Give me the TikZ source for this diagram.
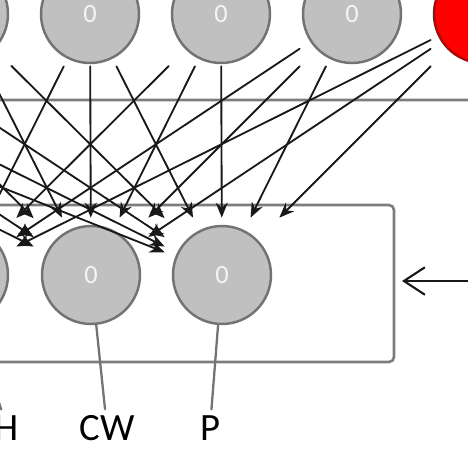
\documentclass[tikz,border=0pt]{standalone}
\usepackage{fontspec}
\setsansfont{Carlito}
\usetikzlibrary{arrows.meta}
\definecolor{nodegray}{RGB}{192,192,192}
\definecolor{rimgray}{RGB}{115,115,115}
\definecolor{edgegray}{RGB}{25,25,25}
\definecolor{plategray}{RGB}{125,125,125}
\begin{document}
\begin{tikzpicture}[x=0.02cm, y=-0.02cm, >={Stealth[length=0.3cm,width=0.24cm]}, line join=round, line cap=round,
    unit/.style={rectangle, inner sep=0pt, minimum size=#1*0.02cm, text=gray!8,
        font=\sffamily\fontsize{15}{15}\selectfont,
        path picture={\draw[draw=rimgray, fill=nodegray, line width=1.4pt]
            (path picture bounding box.center) circle (0.98cm);}},
    redunit/.style={rectangle, inner sep=0pt, minimum size=104*0.02cm,
        path picture={\draw[draw=red!75!black, fill=red, line width=1.4pt]
            (path picture bounding box.center) circle (0.98cm);}},
    edge/.style={->, draw=edgegray, line width=1.05pt},
    plate/.style={draw=plategray, line width=1.5pt, rounded corners=0.1cm},
    wire/.style={draw=rimgray, line width=1.3pt},
    lbl/.style={font=\sffamily\fontsize{22}{22}\selectfont}]
    \def\dx{131} \def\ytop{14} \def\ybot{275} % Lage der Schichten
    \useasboundingbox (0,0) rectangle (468,468);
    \clip (0,0) rectangle (468,468);
    % Platten
    \draw[plate] (-700,-300) rectangle (700,100);
    \draw[plate] (-700,205) rectangle (394,362);
    % obere Schicht (links ausserhalb ohne Text)
    \foreach \i in {1,...,4}
        \node[unit=104] (t\i) at ({90+\dx*(\i-5)},\ytop) {};
    \foreach \i in {5,6,7}
        \node[unit=104] (t\i) at ({90+\dx*(\i-5)},\ytop) {0};
    \node[redunit] (t8) at ({90+\dx*3},\ytop) {};
    % untere Schicht
    \node[unit=114] (h) at (-41,\ybot) {};
    \node[unit=114] (cw) at (91,\ybot) {0};
    \node[unit=114] (p) at (222,\ybot) {0};
    \foreach \i in {1,...,8}
        \foreach \b in {h,cw,p}
            \draw[edge] (t\i) -- (\b);
    % Beschriftungen
    \node[lbl] (lh) at (7,428) {H};
    \node[lbl] (lcw) at (107,428) {CW};
    \node[lbl] (lp) at (210,428) {P};
    \foreach \b in {h,cw,p}
        \draw[wire, shorten <=1cm] (\b.center) -- (l\b);
    \coordinate (pin) at (402,281);
    \coordinate (pout) at (490,281);
    \draw[-{Straight Barb[length=0.42cm,width=0.55cm]}, draw=edgegray, line width=1.2pt] (pout) -- (pin);
\end{tikzpicture}
\end{document}
